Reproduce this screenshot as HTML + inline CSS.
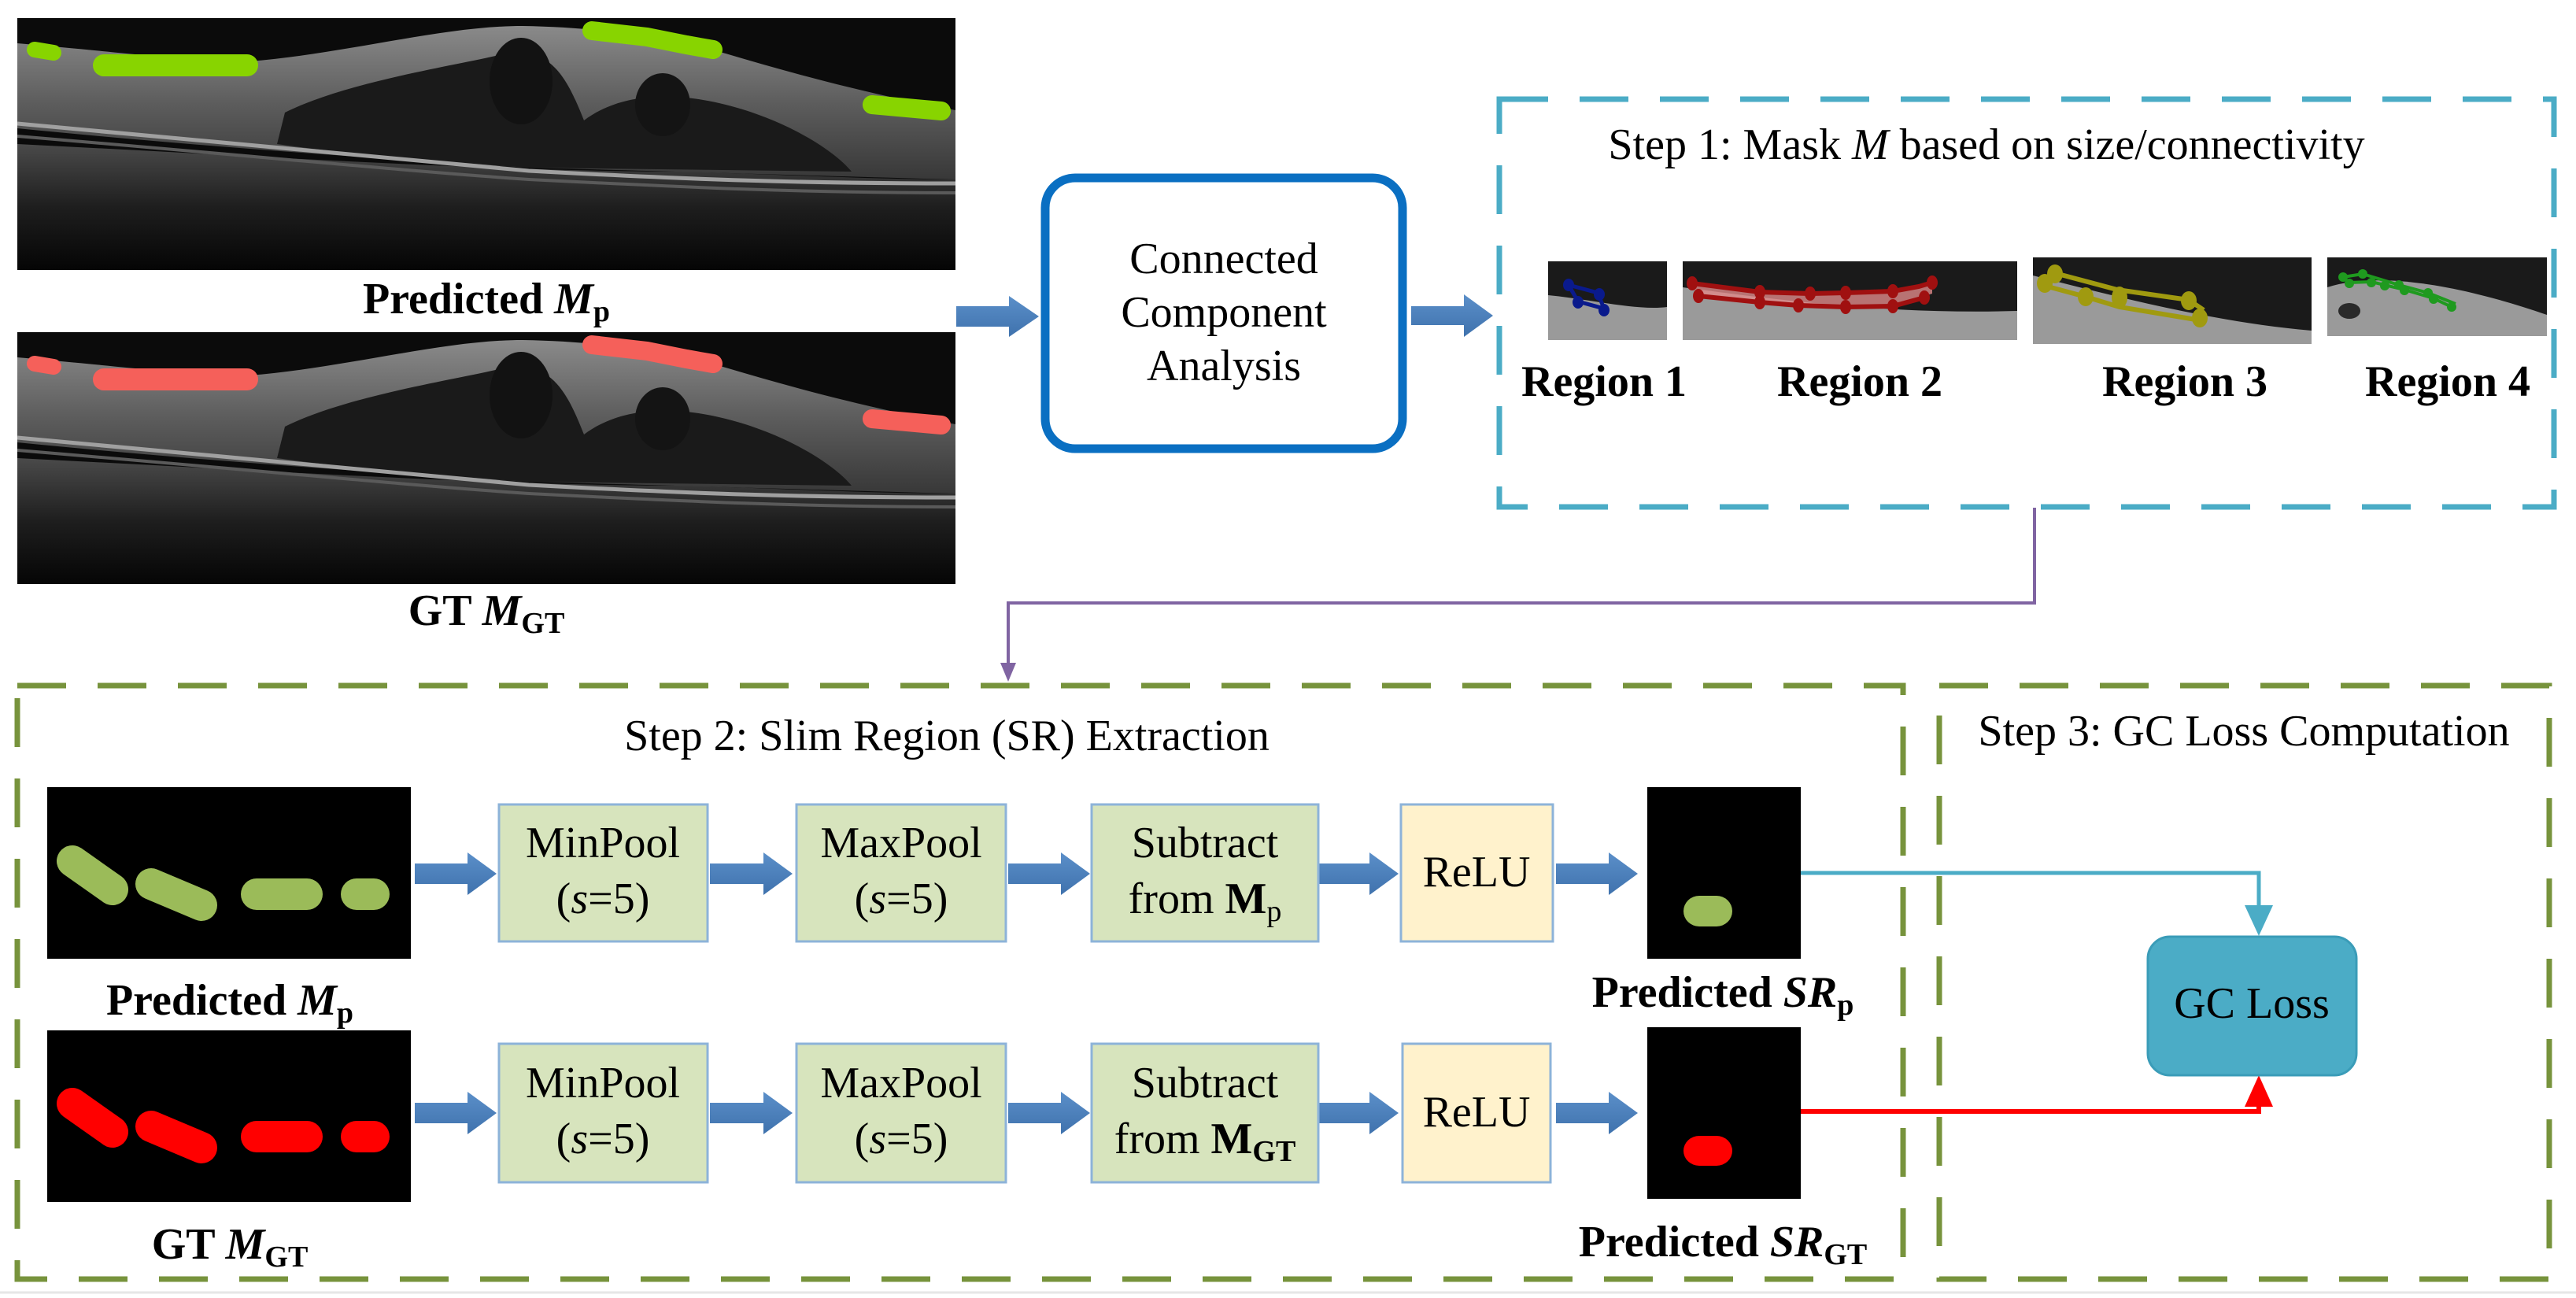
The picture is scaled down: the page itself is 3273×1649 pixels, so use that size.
<!DOCTYPE html>
<html><head><meta charset="utf-8"><style>
html,body{margin:0;padding:0;background:#fff}
svg{display:block}
text{font-family:"Liberation Serif",serif;fill:#000}
</style></head><body>
<svg width="3273" height="1649" viewBox="0 0 3273 1649" xmlns="http://www.w3.org/2000/svg">
<defs>
<linearGradient id="arr" x1="0" y1="0" x2="0" y2="1"><stop offset="0" stop-color="#5b8fc9"/><stop offset="1" stop-color="#3f72ad"/></linearGradient>
<linearGradient id="ret" x1="0" y1="0" x2="0" y2="1"><stop offset="0" stop-color="#8a8a8a"/><stop offset="0.5" stop-color="#5d5d5d"/><stop offset="1" stop-color="#383838"/></linearGradient>
<linearGradient id="deep" x1="0" y1="0" x2="0" y2="1"><stop offset="0" stop-color="#4a4a4a"/><stop offset="0.5" stop-color="#1e1e1e"/><stop offset="1" stop-color="#050505"/></linearGradient>
<g id="oct">
<rect x="0" y="0" width="1192" height="320" fill="#0b0b0b"/>
<path d="M0,160 C300,175 600,195 850,195 C1000,200 1100,205 1192,205 L1192,320 L0,320 Z" fill="url(#deep)"/>
<path d="M0,32 C150,45 250,58 294,55 C420,45 540,10 642,10 C760,12 850,30 900,45 C1000,75 1100,100 1192,117 L1192,205 C1000,200 850,195 650,190 C400,175 200,160 0,140 Z" fill="url(#ret)"/>
<path d="M340,120 C420,80 560,60 620,45 C680,35 700,80 720,130 C760,100 820,90 900,110 C980,130 1040,170 1060,195 L650,190 C500,180 400,170 330,160 Z" fill="#1a1a1a"/>
<ellipse cx="640" cy="80" rx="40" ry="55" fill="#121212"/>
<ellipse cx="820" cy="110" rx="35" ry="40" fill="#141414"/>
<path d="M0,134 C300,160 500,180 650,194 C850,205 1000,210 1192,210" fill="none" stroke="#a0a0a0" stroke-width="5"/>
<path d="M0,150 C300,175 500,195 650,205 C850,215 1000,222 1192,222" fill="none" stroke="#5a5a5a" stroke-width="4"/>
</g>
<g id="blobs">
<line x1="22" y1="40" x2="46" y2="44" stroke-width="20" stroke-linecap="round"/>
<line x1="110" y1="60" x2="292" y2="60" stroke-width="28" stroke-linecap="round"/>
<polyline points="730,16 800,24 850,34 884,40" fill="none" stroke-width="24" stroke-linecap="round"/>
<line x1="1086" y1="110" x2="1174" y2="118" stroke-width="24" stroke-linecap="round"/>
</g>
</defs>

<g transform="translate(22,23)"><use href="#oct"/><use href="#blobs" stroke="#88d400"/></g>
<g transform="translate(22,422)"><use href="#oct"/><use href="#blobs" stroke="#f5605a"/></g>
<text x="618" y="398" font-size="56" text-anchor="middle" font-weight="bold">Predicted <tspan font-style="italic">M</tspan><tspan font-size="38" dy="10">p</tspan></text>
<text x="618" y="794" font-size="56" text-anchor="middle" font-weight="bold">GT <tspan font-style="italic">M</tspan><tspan font-size="38" dy="10">GT</tspan></text>

<g fill="url(#arr)">
<path d="M1215,389 L1282,389 L1282,376 L1320,402 L1282,428 L1282,415 L1215,415 Z"/>
<path d="M1793,389 L1860,389 L1860,374 L1897,401 L1860,428 L1860,413 L1793,413 Z"/>
</g>

<rect x="1328" y="226" width="454" height="344" rx="38" fill="#fff" stroke="#0a6fc2" stroke-width="11"/>
<text x="1555" y="347" font-size="56" text-anchor="middle">Connected</text>
<text x="1555" y="415" font-size="56" text-anchor="middle">Component</text>
<text x="1555" y="483" font-size="56" text-anchor="middle">Analysis</text>

<rect x="1905" y="126" width="1340" height="518" fill="none" stroke="#4bacc6" stroke-width="7" stroke-dasharray="62,40"/>
<text x="2524" y="202" font-size="56" text-anchor="middle">Step 1: Mask <tspan font-style="italic">M</tspan> based on size/connectivity</text>

<g>
<rect x="1967" y="332" width="151" height="100" fill="#1a1a1a"/>
<path d="M1967,375 C2020,380 2080,395 2118,390 L2118,432 L1967,432 Z" fill="#9a9a9a"/>
<polyline points="1993,362 2005,383 2038,392 2030,372 1993,362" fill="none" stroke="#0a1a8c" stroke-width="5"/>
<g fill="#0a1a8c"><ellipse cx="1993" cy="362" rx="7" ry="8"/><ellipse cx="2005" cy="384" rx="7" ry="8"/><ellipse cx="2032" cy="374" rx="7" ry="8"/><ellipse cx="2038" cy="394" rx="7" ry="8"/></g>

<rect x="2138" y="332" width="425" height="100" fill="#1a1a1a"/>
<path d="M2138,365 C2250,380 2400,400 2563,395 L2563,432 L2138,432 Z" fill="#9a9a9a"/>
<path d="M2150,360 L2236,371 L2300,373 L2345,372 L2405,370 L2438,364 L2455,359 L2455,373 L2405,389 L2345,390 L2300,388 L2236,384 L2158,376 Z" fill="#e08a8a" opacity="0.8"/>
<polyline points="2150,360 2236,371 2300,373 2345,372 2405,370 2438,364 2455,359" fill="none" stroke="#a01010" stroke-width="6"/>
<polyline points="2158,376 2236,384 2285,388 2345,390 2405,389 2445,378" fill="none" stroke="#a01010" stroke-width="6"/>
<g fill="#a01010"><ellipse cx="2150" cy="360" rx="7" ry="9"/><ellipse cx="2158" cy="376" rx="7" ry="9"/><ellipse cx="2236" cy="371" rx="7" ry="9"/><ellipse cx="2236" cy="384" rx="7" ry="9"/><ellipse cx="2285" cy="388" rx="7" ry="9"/><ellipse cx="2300" cy="373" rx="7" ry="9"/><ellipse cx="2345" cy="372" rx="7" ry="9"/><ellipse cx="2345" cy="390" rx="7" ry="9"/><ellipse cx="2405" cy="370" rx="7" ry="9"/><ellipse cx="2405" cy="389" rx="7" ry="9"/><ellipse cx="2445" cy="378" rx="7" ry="9"/><ellipse cx="2455" cy="359" rx="7" ry="9"/></g>

<rect x="2583" y="327" width="354" height="110" fill="#1a1a1a"/>
<path d="M2583,350 C2700,380 2820,410 2937,420 L2937,437 L2583,437 Z" fill="#9a9a9a"/>
<polyline points="2598,356 2611,347 2690,368 2781,381 2800,394" fill="none" stroke="#a09a10" stroke-width="6"/>
<polyline points="2598,363 2650,377 2693,390 2790,406" fill="none" stroke="#a09a10" stroke-width="6"/>
<g fill="#a09a10"><ellipse cx="2598" cy="360" rx="10" ry="12"/><ellipse cx="2611" cy="348" rx="10" ry="12"/><ellipse cx="2650" cy="377" rx="10" ry="12"/><ellipse cx="2693" cy="378" rx="10" ry="14"/><ellipse cx="2781" cy="382" rx="10" ry="12"/><ellipse cx="2795" cy="404" rx="10" ry="12"/></g>

<rect x="2957" y="327" width="279" height="100" fill="#1a1a1a"/>
<path d="M2957,365 C3020,345 3120,360 3236,400 L3236,427 L2957,427 Z" fill="#9a9a9a"/>
<ellipse cx="2985" cy="395" rx="14" ry="10" fill="#2a2a2a"/>
<polyline points="2977,352 3002,348 3048,362 3085,372 3120,386" fill="none" stroke="#1f9a1f" stroke-width="4"/>
<polyline points="2985,359 3013,358 3055,368 3092,379 3115,390" fill="none" stroke="#1f9a1f" stroke-width="4"/>
<g fill="#1f9a1f"><circle cx="2977" cy="352" r="6"/><circle cx="3002" cy="348" r="6"/><circle cx="2985" cy="360" r="6"/><circle cx="3013" cy="359" r="6"/><circle cx="3030" cy="363" r="6"/><circle cx="3048" cy="362" r="6"/><circle cx="3055" cy="369" r="6"/><circle cx="3085" cy="372" r="6"/><circle cx="3092" cy="380" r="6"/><circle cx="3115" cy="390" r="6"/></g>
</g>
<g font-size="56" font-weight="bold" text-anchor="middle">
<text x="2038" y="503">Region 1</text><text x="2363" y="503">Region 2</text><text x="2776" y="503">Region 3</text><text x="3110" y="503">Region 4</text>
</g>

<polyline points="2585,645 2585,766 1281,766 1281,850" fill="none" stroke="#8064a2" stroke-width="4"/>
<path d="M1271,842 L1291,842 L1281,866 Z" fill="#8064a2"/>

<rect x="22" y="871" width="2396" height="754" fill="none" stroke="#77933c" stroke-width="7" stroke-dasharray="62,40"/>
<rect x="2464" y="871" width="775" height="754" fill="none" stroke="#77933c" stroke-width="7" stroke-dasharray="62,40"/>
<text x="1203" y="953" font-size="56" text-anchor="middle">Step 2: Slim Region (SR) Extraction</text>
<text x="2851" y="947" font-size="56" text-anchor="middle">Step 3: GC Loss Computation</text>

<rect x="60" y="1000" width="462" height="218" fill="#000"/>
<rect x="60" y="1309" width="462" height="218" fill="#000"/>
<g stroke-linecap="round">
<line x1="92" y1="1094" x2="143" y2="1130" stroke="#9bbb59" stroke-width="40"/>
<line x1="192" y1="1123" x2="256" y2="1150" stroke="#9bbb59" stroke-width="40"/>
<line x1="326" y1="1136" x2="390" y2="1136" stroke="#9bbb59" stroke-width="40"/>
<line x1="453" y1="1136" x2="475" y2="1136" stroke="#9bbb59" stroke-width="40"/>
<line x1="92" y1="1402" x2="143" y2="1438" stroke="#ff0000" stroke-width="40"/>
<line x1="192" y1="1431" x2="256" y2="1458" stroke="#ff0000" stroke-width="40"/>
<line x1="326" y1="1444" x2="390" y2="1444" stroke="#ff0000" stroke-width="40"/>
<line x1="453" y1="1444" x2="475" y2="1444" stroke="#ff0000" stroke-width="40"/>
</g>
<text x="292" y="1289" font-size="56" text-anchor="middle" font-weight="bold">Predicted <tspan font-style="italic">M</tspan><tspan font-size="38" dy="10">p</tspan></text>
<text x="292" y="1599" font-size="56" text-anchor="middle" font-weight="bold">GT <tspan font-style="italic">M</tspan><tspan font-size="38" dy="10">GT</tspan></text>

<g fill="url(#arr)">
<path d="M527,1097 L594,1097 L594,1083 L631,1110 L594,1137 L594,1123 L527,1123 Z"/>
<path d="M902,1097 L970,1097 L970,1083 L1007,1110 L970,1137 L970,1123 L902,1123 Z"/>
<path d="M1281,1097 L1348,1097 L1348,1083 L1385,1110 L1348,1137 L1348,1123 L1281,1123 Z"/>
<path d="M1675,1097 L1740,1097 L1740,1083 L1777,1110 L1740,1137 L1740,1123 L1675,1123 Z"/>
<path d="M1977,1097 L2044,1097 L2044,1083 L2081,1110 L2044,1137 L2044,1123 L1977,1123 Z"/>
<path d="M527,1401 L594,1401 L594,1387 L631,1414 L594,1441 L594,1427 L527,1427 Z"/>
<path d="M902,1401 L970,1401 L970,1387 L1007,1414 L970,1441 L970,1427 L902,1427 Z"/>
<path d="M1281,1401 L1348,1401 L1348,1387 L1385,1414 L1348,1441 L1348,1427 L1281,1427 Z"/>
<path d="M1675,1401 L1740,1401 L1740,1387 L1777,1414 L1740,1441 L1740,1427 L1675,1427 Z"/>
<path d="M1977,1401 L2044,1401 L2044,1387 L2081,1414 L2044,1441 L2044,1427 L1977,1427 Z"/>
</g>

<g stroke="#8db3d9" stroke-width="3">
<rect x="634" y="1022" width="265" height="174" fill="#d7e4bd"/>
<rect x="1012" y="1022" width="266" height="174" fill="#d7e4bd"/>
<rect x="1387" y="1022" width="288" height="174" fill="#d7e4bd"/>
<rect x="1780" y="1022" width="193" height="174" fill="#fff2cc"/>
<rect x="634" y="1326" width="265" height="176" fill="#d7e4bd"/>
<rect x="1012" y="1326" width="266" height="176" fill="#d7e4bd"/>
<rect x="1387" y="1326" width="288" height="176" fill="#d7e4bd"/>
<rect x="1782" y="1326" width="188" height="176" fill="#fff2cc"/>
</g>
<g font-size="56" text-anchor="middle">
<text x="766" y="1089">MinPool</text><text x="766" y="1160">(<tspan font-style="italic">s</tspan>=5)</text>
<text x="1145" y="1089">MaxPool</text><text x="1145" y="1160">(<tspan font-style="italic">s</tspan>=5)</text>
<text x="1531" y="1089">Subtract</text><text x="1531" y="1160">from <tspan font-weight="bold">M</tspan><tspan font-size="38" dy="10">p</tspan></text>
<text x="1876" y="1126">ReLU</text>
<text x="766" y="1394">MinPool</text><text x="766" y="1465">(<tspan font-style="italic">s</tspan>=5)</text>
<text x="1145" y="1394">MaxPool</text><text x="1145" y="1465">(<tspan font-style="italic">s</tspan>=5)</text>
<text x="1531" y="1394">Subtract</text><text x="1531" y="1465">from <tspan font-weight="bold">M</tspan><tspan font-size="38" dy="10" font-weight="bold">GT</tspan></text>
<text x="1876" y="1431">ReLU</text>
</g>

<rect x="2093" y="1000" width="195" height="218" fill="#000"/>
<rect x="2093" y="1305" width="195" height="218" fill="#000"/>
<rect x="2139" y="1138" width="62" height="39" rx="20" fill="#9bbb59"/>
<rect x="2139" y="1443" width="62" height="38" rx="20" fill="#ff0000"/>
<text x="2189" y="1279" font-size="56" text-anchor="middle" font-weight="bold">Predicted <tspan font-style="italic">SR</tspan><tspan font-size="38" dy="10">p</tspan></text>
<text x="2189" y="1596" font-size="56" text-anchor="middle" font-weight="bold">Predicted <tspan font-style="italic">SR</tspan><tspan font-size="38" dy="10">GT</tspan></text>

<polyline points="2288,1109 2870,1109 2870,1152" fill="none" stroke="#4bacc6" stroke-width="5"/>
<path d="M2852,1150 L2888,1150 L2870,1189 Z" fill="#4bacc6"/>
<polyline points="2288,1412 2870,1412 2870,1400" fill="none" stroke="#ff0000" stroke-width="6"/>
<path d="M2852,1406 L2888,1406 L2870,1366 Z" fill="#ff0000"/>

<rect x="2729" y="1190" width="265" height="176" rx="28" fill="#4bacc6" stroke="#3a9cb8" stroke-width="3"/>
<text x="2861" y="1293" font-size="56" text-anchor="middle">GC Loss</text>

<line x1="0" y1="1642" x2="3273" y2="1642" stroke="#e6e6e6" stroke-width="3"/>
</svg>
</body></html>
